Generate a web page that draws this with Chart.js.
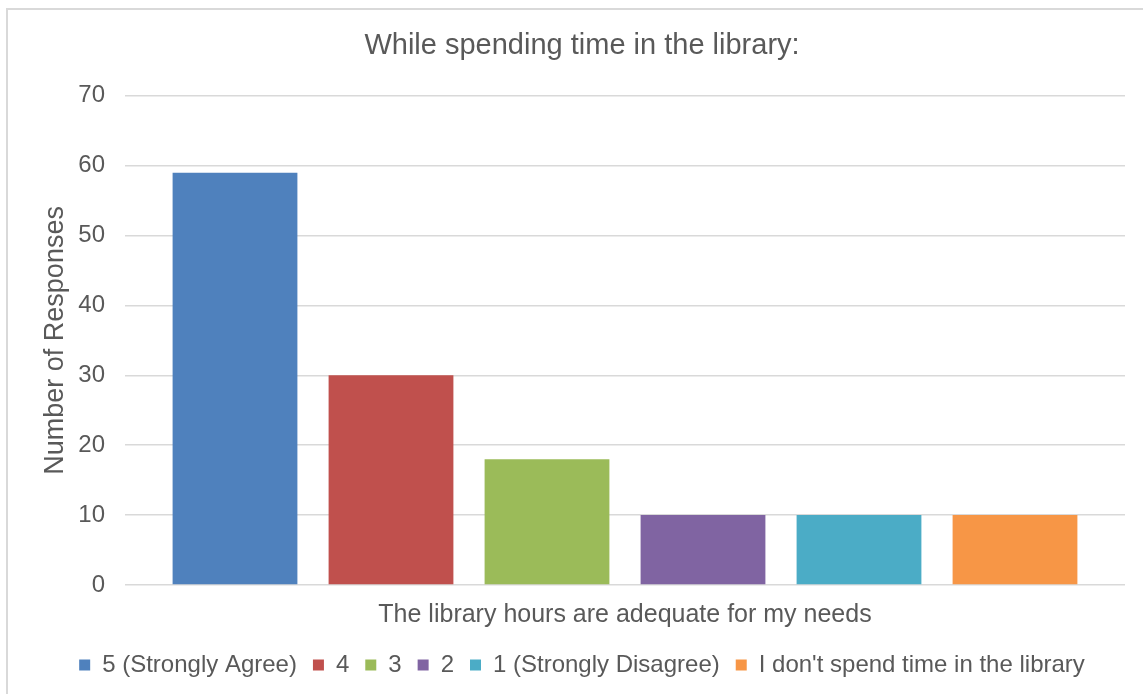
<!DOCTYPE html>
<html>
<head>
<meta charset="utf-8">
<script src="https://cdn.jsdelivr.net/npm/chart.js@4"></script>
<style>
  html, body { margin: 0; padding: 0; background: #fff; overflow: hidden; }
  #wrap { position: relative; width: 1143px; height: 694px; overflow: hidden; }
  #frame {
    position: absolute; left: 6px; top: 8px; width: 1160px; height: 720px;
    border-left: 2px solid #d9d9d9; border-top: 2px solid #d9d9d9;
    pointer-events: none;
  }
  #Chart1 { position: absolute; left: 0; top: 0; }
</style>
</head>
<body>
<div id="wrap">
  <canvas id="Chart1" width="1160" height="694"></canvas>
  <div id="frame"></div>
</div>
<script>
const categories = ["The library hours are adequate for my needs"];
const seriesNames = ["5 (Strongly Agree)", "4", "3", "2", "1 (Strongly Disagree)", "I don't spend time in the library"];
const seriesValues = [59, 30, 18, 10, 10, 10];
const seriesColors = ["#4F81BD", "#C0504D", "#9BBB59", "#8064A2", "#4BACC6", "#F79646"];
const yTicks = [0, 10, 20, 30, 40, 50, 60, 70];

const textColor = "#595959";
const gridColor = "#d9d9d9";
Chart.defaults.font.family = "'Liberation Sans', Arial, sans-serif";
Chart.defaults.color = textColor;

document.addEventListener("DOMContentLoaded", function() {
    new Chart(document.getElementById('Chart1'), {
        type: 'bar',
        data: {
            labels: categories,
            datasets: seriesNames.map(function(name, i) {
                return {
                    label: name,
                    data: [seriesValues[i]],
                    backgroundColor: seriesColors[i],
                    borderWidth: 0
                };
            })
        },
        options: {
            responsive: false,
            animation: false,
            categoryPercentage: 0.936,
            barPercentage: 0.8,
            layout: {
                padding: { left: 39, right: 35, top: 0, bottom: 7 }
            },
            scales: {
                x: {
                    // fixed height keeps the plot bottom at the zero line
                    afterFit: function(scale) {
                        scale.height = 52;
                    },
                    grid: { display: false, drawTicks: false },
                    border: { display: false },
                    ticks: {
                        padding: 15,
                        font: { size: 25 },
                        color: textColor
                    }
                },
                y: {
                    min: 0,
                    max: 70,
                    afterBuildTicks: function(scale) {
                        scale.ticks = yTicks.map(function(v) { return { value: v }; });
                    },
                    afterFit: function(scale) {
                        scale.width = 86;
                    },
                    grid: {
                        color: gridColor,
                        lineWidth: 1.5,
                        drawTicks: false
                    },
                    border: { display: false },
                    ticks: {
                        padding: 20,
                        font: { size: 24 },
                        color: textColor
                    },
                    title: {
                        display: true,
                        text: "Number of Responses",
                        font: { size: 27 },
                        color: textColor,
                        padding: { top: 0, bottom: 0 }
                    }
                }
            },
            plugins: {
                title: {
                    display: true,
                    text: "While spending time in the library:",
                    font: { size: 29, weight: 'normal' },
                    color: textColor,
                    padding: { top: 29, bottom: 32 }
                },
                legend: {
                    position: 'bottom',
                    labels: {
                        boxWidth: 11,
                        boxHeight: 11,
                        padding: 16,
                        font: { size: 24 },
                        color: textColor
                    }
                },
                tooltip: { enabled: false }
            }
        }
    });
});
</script>
</body>
</html>
